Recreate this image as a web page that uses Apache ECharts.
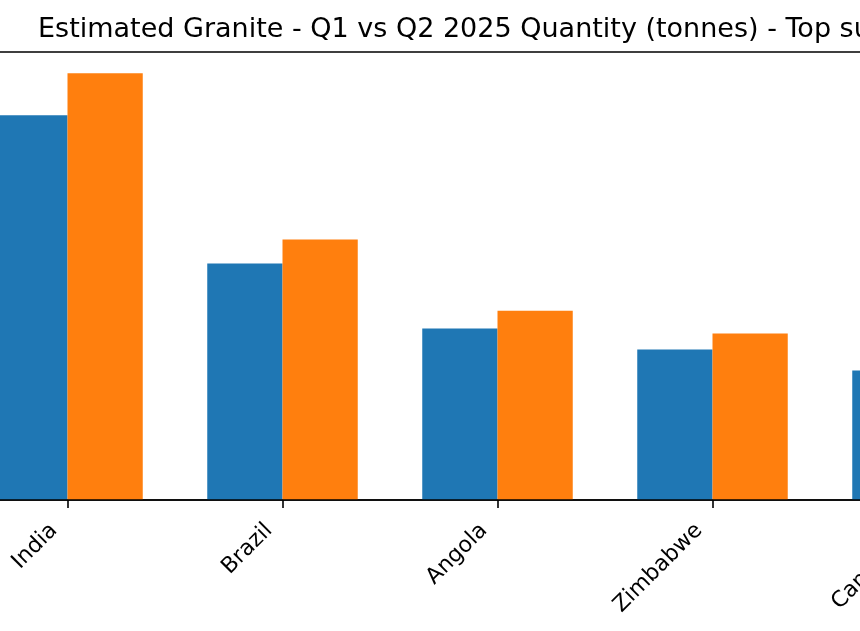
<!DOCTYPE html>
<html>
<head>
<meta charset="utf-8">
<script src="https://cdn.jsdelivr.net/npm/echarts@6/dist/echarts.min.js"></script>
<style>
  html, body { margin: 0; padding: 0; background: #fff; overflow: hidden; }
  body { width: 860px; height: 631px; position: relative; }
  /* the original picture is a crop of a wider figure, so the chart runs past both edges */
  #chart { position: absolute; left: -40px; top: 0; width: 1075px; height: 631px; }
</style>
</head>
<body>
<div id="chart"></div>
<script>
// suppliers shown along the x axis
const countries = ['India', 'Brazil', 'Angola', 'Zimbabwe', 'Cambodia'];
// quantities in tonnes
const q1 = [38500, 23670, 17170, 15070, 12970];
const q2 = [42700, 26070, 18930, 16670, 14500];

const chart = echarts.init(document.getElementById('chart'));

const option = {
  animation: false,
  textStyle: { fontFamily: 'DejaVu Sans' },
  title: {
    text: 'Estimated Granite - Q1 vs Q2 2025 Quantity (tonnes) - Top suppliers',
    left: 78,
    top: 16,
    padding: 0,
    textStyle: { fontFamily: 'DejaVu Sans', fontSize: 27, fontWeight: 'normal', color: '#000' }
  },
  grid: {
    left: 0,
    right: 0,
    top: 52,
    bottom: 131,
    show: true,
    borderColor: '#000',
    borderWidth: 1.6,
    backgroundColor: 'transparent'
  },
  xAxis: {
    type: 'category',
    data: countries,
    z: 10,
    axisLine: { show: true, lineStyle: { color: '#000', width: 1.6 } },
    axisTick: {
      show: true,
      alignWithLabel: true,
      interval: 0,
      length: 8,
      lineStyle: { color: '#000', width: 1.6 }
    },
    axisLabel: {
      rotate: 45,
      interval: 0,
      margin: 35,
      align: 'right',
      verticalAlign: 'bottom',
      padding: [0, 4, 4, 0],
      fontSize: 22,
      color: '#000',
      fontFamily: 'DejaVu Sans'
    }
  },
  yAxis: {
    type: 'value',
    min: 0,
    max: function (v) { return v.max * 1.05; },
    show: false,
    splitLine: { show: false }
  },
  series: [
    {
      name: 'Q1 2025',
      type: 'bar',
      data: q1,
      barWidth: 75.25,
      barGap: '0%',
      itemStyle: { color: '#1f77b4' }
    },
    {
      name: 'Q2 2025',
      type: 'bar',
      data: q2,
      barWidth: 75.25,
      barGap: '0%',
      itemStyle: { color: '#ff7f0e' }
    }
  ]
};

chart.setOption(option);
</script>
</body>
</html>
